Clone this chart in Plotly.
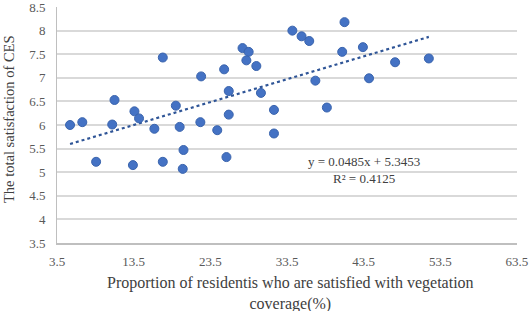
import plotly.graph_objects as go

x_vals = [5.2, 6.8, 11.0, 10.7, 13.6, 14.2, 16.2, 17.3, 19.0, 19.5, 20.0, 22.3, 22.2, 24.4,
          25.3, 25.9, 25.9, 25.6, 27.7, 28.5, 28.2, 29.5, 30.1,
          8.6, 13.4, 17.3, 19.9,
          34.2, 35.4, 36.4, 41.0, 40.7, 43.4, 37.2, 31.8, 31.8, 38.7, 44.2, 47.6, 52.0]
y_vals = [6.00, 6.06, 6.53, 6.01, 6.29, 6.14, 5.92, 7.43, 6.41, 5.96, 5.47, 7.03, 6.06, 5.89,
          7.18, 6.72, 6.22, 5.32, 7.63, 7.55, 7.37, 7.25, 6.68,
          5.22, 5.15, 5.22, 5.07,
          8.00, 7.88, 7.78, 8.18, 7.55, 7.65, 6.94, 6.32, 5.82, 6.37, 6.99, 7.33, 7.41]

slope = 0.0485
intercept = 5.3453
r2 = 0.4125

x_ticks = [3.5, 13.5, 23.5, 33.5, 43.5, 53.5, 63.5]
y_ticks = [3.5, 4, 4.5, 5, 5.5, 6, 6.5, 7, 7.5, 8, 8.5]

trend_x = [min(x_vals), max(x_vals)]
trend_y = [slope * v + intercept for v in trend_x]

font_family = "Liberation Serif, Times New Roman, serif"

fig = go.Figure()
fig.add_trace(go.Scatter(
    x=trend_x, y=trend_y, mode="lines",
    line=dict(color="#2F5597", width=2.2, dash="dot"),
    hoverinfo="skip", showlegend=False,
))
fig.add_trace(go.Scatter(
    x=x_vals, y=y_vals, mode="markers",
    marker=dict(color="#4472C4", size=9, line=dict(color="#3A64AD", width=1)),
    showlegend=False, cliponaxis=False,
))

fig.add_annotation(
    x=43.5, y=5.05, xref="x", yref="y",
    text=f"y = {slope}x + {intercept}<br>R\u00b2 = {r2}",
    showarrow=False, align="center",
    font=dict(family=font_family, size=13, color="#404040"),
)

# axis titles
fig.add_annotation(
    x=0.5, y=0, xref="paper", yref="paper", yanchor="top", yshift=-29, xshift=3,
    text="Proportion of residentis who are satisfied with vegetation<br>coverage(%)",
    showarrow=False, align="center",
    font=dict(family=font_family, size=16, color="#404040"),
)
fig.add_annotation(
    x=0, y=0.5, xref="paper", yref="paper", xanchor="center", xshift=-48, yshift=6,
    text="The total satisfaction of CES", textangle=-90,
    showarrow=False, font=dict(family=font_family, size=14.5, color="#404040"),
)

fig.update_layout(
    width=532, height=311,
    margin=dict(l=57, r=15, t=7, b=68),
    paper_bgcolor="white", plot_bgcolor="white",
    font=dict(family=font_family, size=13, color="#595959"),
    xaxis=dict(
        range=[3.499, 63.501], tickvals=x_ticks, ticktext=[str(v) for v in x_ticks],
        showgrid=False, zeroline=False, automargin=False,
        showline=True, linecolor="#BFBFBF", linewidth=1.5,
        ticks="", ticklabelstandoff=6, ticklabeloverflow="allow",
    ),
    yaxis=dict(
        range=[3.499, 8.501], tickvals=y_ticks, ticktext=[str(v) for v in y_ticks],
        showgrid=True, gridcolor="#D9D9D9", gridwidth=1.5, zeroline=False, automargin=False,
        showline=True, linecolor="#BFBFBF", linewidth=1,
        ticks="", ticklabelstandoff=8, ticklabeloverflow="allow",
    ),
)

fig.write_html("out.html", config={"displayModeBar": False},
               post_script="document.body.style.margin='0';document.body.style.overflow='hidden';")
